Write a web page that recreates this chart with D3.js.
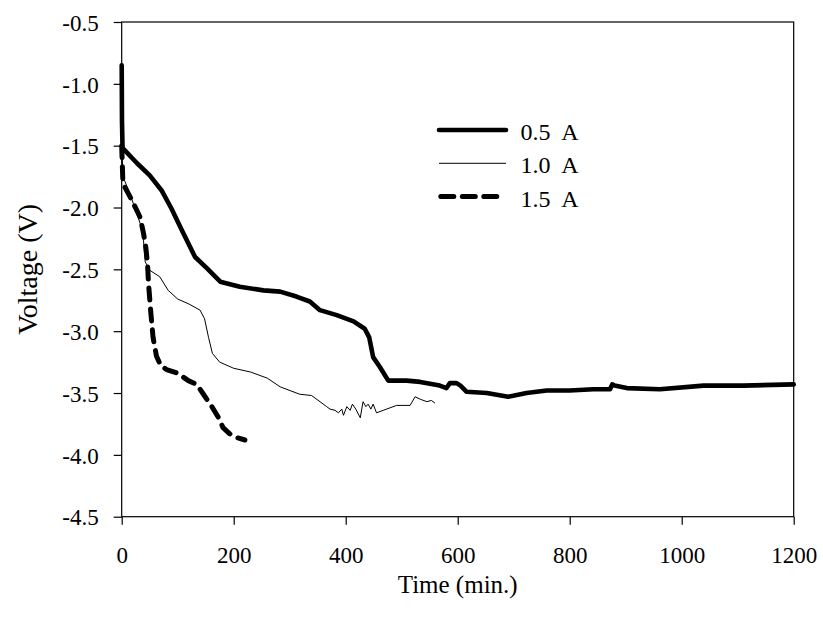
<!DOCTYPE html>
<html>
<head>
<meta charset="utf-8">
<script src="https://cdn.jsdelivr.net/npm/d3@7"></script>
<style>
    body { margin: 0; background: #fff; }
    svg text { font-family: "Liberation Serif", "Times New Roman", serif; fill: #000; }
</style>
</head>
<body>
<div id="chart"></div>
<script>
// time (min.) / voltage (V) pairs
var series05 = [
    [0, -0.85], [0.5, -1.3], [1.5, -1.52], [4, -1.53], [6, -1.54], [27, -1.64], [50, -1.74],
    [71, -1.86], [89, -2.01], [107, -2.18], [131, -2.40], [152, -2.49], [176, -2.60],
    [211, -2.64], [253, -2.67], [283, -2.68], [312, -2.72], [336, -2.76], [354, -2.83],
    [384, -2.87], [414, -2.92], [434, -2.98], [442, -3.05], [449, -3.21], [461, -3.29],
    [476, -3.40], [509, -3.40], [533, -3.41], [568, -3.44], [580, -3.46], [586, -3.42],
    [598, -3.42], [605, -3.44], [616, -3.49], [652, -3.50], [690, -3.53], [723, -3.50],
    [759, -3.48], [800, -3.48], [842, -3.47], [872, -3.47], [876, -3.43], [880, -3.44],
    [902, -3.46], [961, -3.47], [1039, -3.44], [1110, -3.44], [1200, -3.43]
];
var series10 = [
    [0, -1.5], [2, -1.7], [5, -1.78], [12, -1.86], [21, -1.97], [33, -2.13], [39, -2.27],
    [42, -2.44], [51, -2.51], [68, -2.56], [83, -2.67], [100, -2.74], [120, -2.78],
    [140, -2.83], [148, -2.9], [155, -3.05], [162, -3.18], [175, -3.25], [200, -3.3],
    [230, -3.33], [260, -3.38], [283, -3.45], [318, -3.51], [339, -3.52], [366, -3.61],
    [372, -3.63], [381, -3.64], [387, -3.66], [393, -3.63], [396, -3.68], [402, -3.61],
    [408, -3.64], [412, -3.59], [418, -3.63], [426, -3.70], [431, -3.57], [436, -3.61],
    [440, -3.59], [445, -3.63], [449, -3.59], [455, -3.66], [467, -3.64], [491, -3.60],
    [515, -3.60], [524, -3.53], [533, -3.55], [545, -3.57], [553, -3.56], [559, -3.58]
];
var series15 = [
    [0, -1.5], [2, -1.78], [4, -1.82], [18, -1.94], [33, -2.08], [39, -2.21], [43, -2.32],
    [46, -2.45], [48, -2.62], [52, -2.85], [56, -3.05], [62, -3.2], [70, -3.28],
    [80, -3.31], [100, -3.34], [119, -3.40], [134, -3.43], [146, -3.51], [161, -3.61],
    [173, -3.70], [181, -3.78], [193, -3.83], [205, -3.86], [220, -3.88]
];
var seriesNames = ["0.5 A", "1.0 A", "1.5 A"];
var xTicks = [0, 200, 400, 600, 800, 1000, 1200];
var yTicks = [-0.5, -1.0, -1.5, -2.0, -2.5, -3.0, -3.5, -4.0, -4.5];

var width = 823;
var height = 618;
var plotLeft = 121.7, plotRight = 793.7, plotTop = 22, plotBottom = 516.7;

var svg = d3.select('#chart')
    .append('svg')
    .attr('width', width)
    .attr('height', height);

var x = d3.scaleLinear().domain([0, 1200]).range([plotLeft, plotRight]);
var y = d3.scaleLinear().domain([-0.5, -4.5]).range([plotTop, plotBottom]);

// frame
svg.append('rect')
    .attr('x', plotLeft).attr('y', plotTop)
    .attr('width', plotRight - plotLeft).attr('height', plotBottom - plotTop)
    .style('fill', 'none').style('stroke', '#000').style('stroke-width', 1.2);

var xAxis = svg.append('g')
    .attr('transform', 'translate(0,' + plotBottom + ')')
    .attr('font-family', null)
    .call(d3.axisBottom(x).tickValues(xTicks).tickSize(8).tickFormat(d3.format('d')));
xAxis.select('.domain').remove();
xAxis.selectAll('line').style('stroke', '#000').style('stroke-width', 1.2);
xAxis.selectAll('text').attr('y', 0).attr('dy', '46px')
    .style('font-size', '23px');

var yAxis = svg.append('g')
    .attr('transform', 'translate(' + plotLeft + ',0)')
    .call(d3.axisLeft(y).tickValues(yTicks).tickSize(8));
yAxis.select('.domain').remove();
yAxis.selectAll('line').style('stroke', '#000').style('stroke-width', 1.2);
yAxis.selectAll('text').attr('x', -23).attr('dy', '0.36em')
    .text(function (d) { return d.toFixed(1); })
    .style('font-size', '23px');

svg.append('text')
    .attr('x', (plotLeft + plotRight) / 2).attr('y', 593)
    .attr('text-anchor', 'middle')
    .style('font-size', '25px')
    .text('Time (min.)');

svg.append('text')
    .attr('transform', 'translate(37,' + (plotTop + plotBottom) / 2 + ') rotate(-90)')
    .attr('text-anchor', 'middle')
    .style('font-size', '28px')
    .text('Voltage (V)');

var line = d3.line()
    .x(function (d) { return x(d[0]); })
    .y(function (d) { return y(d[1]); });

var styles = [
    { width: 4.6, dash: null },
    { width: 1, dash: null },
    { width: 5, dash: '12,9' }
];
var allSeries = [series05, series10, series15];

svg.selectAll('path.curve')
    .data(allSeries)
    .enter().append('path')
    .attr('class', 'curve')
    .attr('d', line)
    .style('fill', 'none')
    .style('stroke', '#000')
    .style('stroke-linejoin', 'round')
    .style('stroke-linecap', 'round')
    .style('stroke-width', function (d, i) { return styles[i].width; })
    .style('stroke-dasharray', function (d, i) { return styles[i].dash; });

// legend
var legend = svg.append('g');
seriesNames.forEach(function (name, i) {
    var ly = 130 + i * 33.3;
    legend.append('line')
        .attr('x1', i == 2 ? 440.8 : 439).attr('x2', i == 2 ? 497 : 506)
        .attr('y1', ly).attr('y2', ly)
        .style('stroke', '#000')
        .style('stroke-width', styles[i].width)
        .style('stroke-linecap', i == 1 ? 'butt' : 'round')
        .style('stroke-dasharray', i == 2 ? '13,8.5' : null);
    legend.append('text')
        .attr('x', 520.5).attr('y', ly + 10)
        .style('font-size', '24px')
        .style('white-space', 'pre')
        .text(name.replace(' ', '  '));
});
</script>
</body>
</html>
